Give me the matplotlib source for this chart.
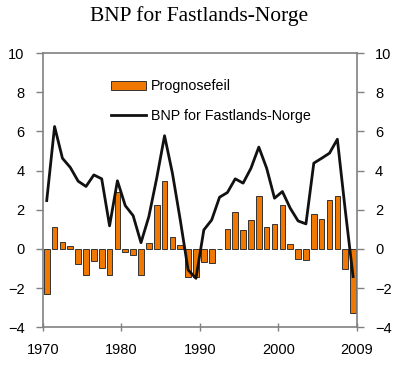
import numpy as np
import matplotlib
matplotlib.use('Agg')
import matplotlib.pyplot as plt

years = np.arange(1970, 2010)
# Prognosefeil (stolper)
prognosefeil = [-2.3, 1.14, 0.34, 0.14, -0.77, -1.33, -0.61, -0.95, -1.31, 2.93,
                -0.14, -0.32, -1.31, 0.32, 2.23, 3.48, 0.61, 0.19, -1.45, -1.45,
                -0.65, -0.73, 0.02, 1.04, 1.87, 0.95, 1.5, 2.69, 1.1, 1.29,
                2.23, 0.24, -0.51, -0.55, 1.8, 1.52, 2.5, 2.71, -1.0, -3.29]
# BNP for Fastlands-Norge (linje)
bnp = [2.47, 6.25, 4.63, 4.16, 3.46, 3.19, 3.78, 3.58, 1.18, 3.48,
       2.21, 1.70, 0.32, 1.65, 3.61, 5.78, 3.87, 1.48, -1.07, -1.5,
       0.97, 1.48, 2.64, 2.88, 3.58, 3.36, 4.12, 5.2, 4.12, 2.59,
       2.93, 2.08, 1.43, 1.28, 4.38, 4.63, 4.89, 5.6, 2.0, -1.41]
xtick_labels = ['1970', '1980', '1990', '2000', '2009']
yticks = [-4, -2, 0, 2, 4, 6, 8, 10]

plt.rcParams['font.family'] = ['Liberation Sans', 'DejaVu Sans']

fig = plt.figure(figsize=(4.0, 3.79), dpi=100)
ax = fig.add_axes([0.107, 0.1364, 0.7855, 0.7236])

bars = ax.bar(years, prognosefeil, width=0.72, color='#F07800', edgecolor='#333333',
              linewidth=0.7, label='Prognosefeil', zorder=2)
line, = ax.plot(years, bnp, color='#111111', linewidth=2.0,
                label='BNP for Fastlands-Norge', zorder=3)

ax.set_xlim(1969.5, 2009.5)
ax.set_ylim(-4, 10)
ax.set_xticks([1969.5, 1979.5, 1989.5, 1999.5, 2009.5])
ax.set_xticklabels(xtick_labels)
ax.set_yticks(yticks)
ax.yaxis.set_ticks_position('both')
ax.tick_params(axis='y', direction='out', length=5, width=1, color='#808080',
               labelsize=10.5, labelright=True, pad=8)
ax.tick_params(axis='x', direction='inout', length=6, width=1, color='#808080',
               labelsize=10.5, pad=8)
for s in ax.spines.values():
    s.set_color('#808080')
    s.set_linewidth(1.2)

ax.legend([bars, line], ['Prognosefeil', 'BNP for Fastlands-Norge'],
          loc='upper left', bbox_to_anchor=(0.2, 0.925), frameon=False,
          fontsize=10.3, handlelength=2.45, handletextpad=0.3, labelspacing=1.1,
          handleheight=0.6, borderaxespad=0)

fig.suptitle('BNP for Fastlands-Norge', family='Liberation Serif', fontsize=15.5,
             x=0.497, y=0.985, va='top')

fig.savefig('out.png', dpi=100)
